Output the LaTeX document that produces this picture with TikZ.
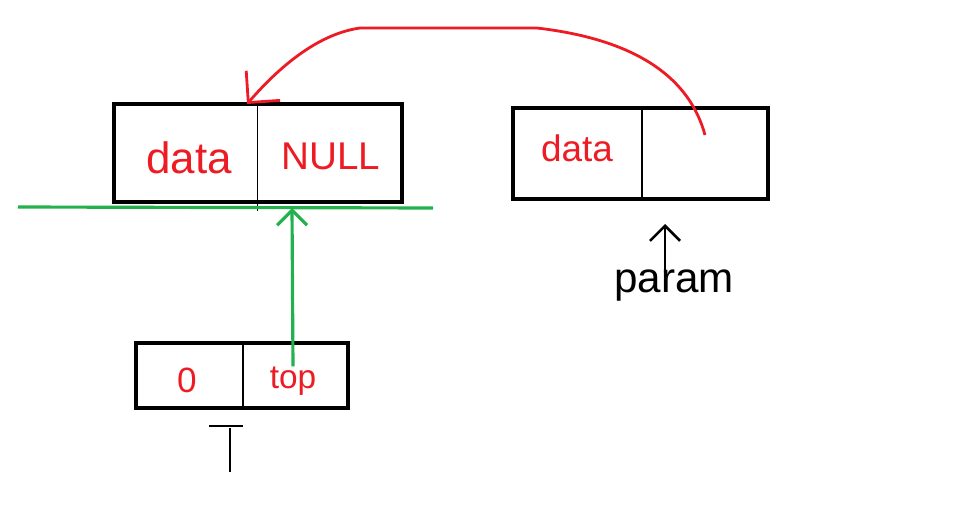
\documentclass[tikz,border=0pt]{standalone}
\usepackage{fontspec}
\setmainfont{Liberation Sans}
\usetikzlibrary{arrows.meta}
\definecolor{paintred}{HTML}{ED1C24}
\definecolor{paintgreen}{HTML}{22B14C}
\tikzset{box/.style={line width=2.5pt}, wall/.style={line width=1.5pt},
  ink/.style={text=paintred,inner sep=0pt}, barb/.style={-{Straight Barb[length=.3cm,width=.6cm]}}}

\begin{document}
\begin{tikzpicture}[x=.02cm,y=-.02cm]
  \useasboundingbox (0,0) rectangle (968,521);
  % first node: data | NULL
  \draw[box] (114,104) rectangle (402,202); \draw[very thin] (257,104)--(257,211);
  \node[ink,font=\fontsize{25}{25}\selectfont] (data1) at (189,158) {data};
  \node[ink,font=\fontsize{22}{22}\selectfont] (null) at (331,156) {NULL};
  % second node: data | next, pointed at by param
  \draw[box] (513,108) rectangle (768,199); \draw[wall] (642,108)--(642,199);
  \node[ink,font=\fontsize{21}{21}\selectfont] (data2) at (577,148) {data};
  \node[inner sep=0pt,font=\fontsize{24}{24}\selectfont] (param) at (674,286) {param};
  % stack T: 0 | top
  \draw[box] (136,343) rectangle (348,408); \draw[wall] (243,343)--(243,408);
  \node[ink,font=\fontsize{20}{20}\selectfont] (zero) at (187,380) {0};
  \node[ink,font=\fontsize{19}{19}\selectfont] (top) at (293,381) {top};
  \draw[line width=1.5pt] (209,426)--(243,426) (230,428)--(230,472);
  % pointers
  \coordinate (next) at (705,135); \coordinate (head) at (247,104);
  \coordinate (base) at (292,208); \coordinate (ptr) at (665,224);
  \draw[paintgreen,line width=1.8pt] (18,207)--(433,208);
  \draw[paintred,line width=1.6pt,-{Straight Barb[length=.45cm,width=.9cm]}] (next) .. controls (690,80) and (640,40) .. (537,28) -- (360,28) .. controls (310,35) and (268,80) .. (head);
  \draw[paintgreen,line width=1.8pt,barb] (top.north) -- (base);
  \draw[line width=1.5pt,barb] (ptr |- param.north) -- (ptr);
\end{tikzpicture}
\end{document}
